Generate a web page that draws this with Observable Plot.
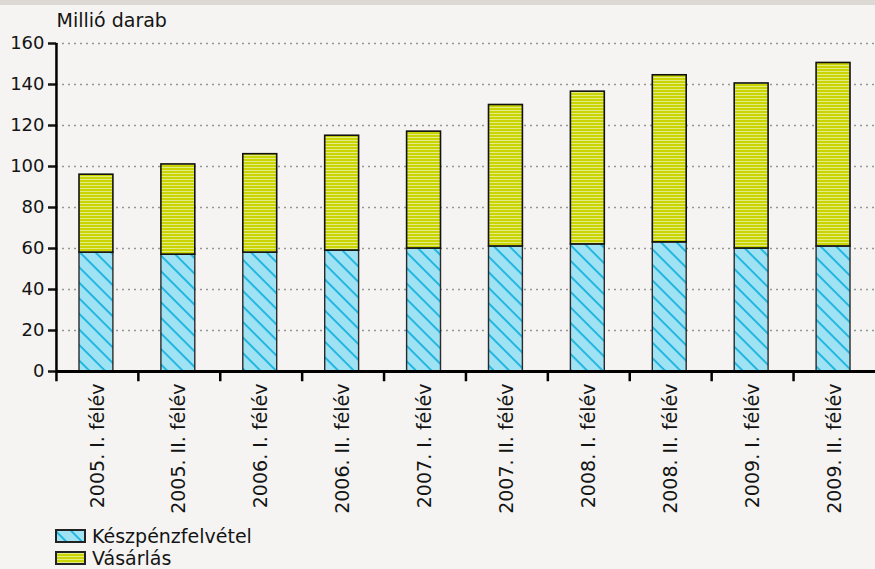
<!DOCTYPE html>
<html><head><meta charset="utf-8">
<script src="https://cdn.jsdelivr.net/npm/d3@7"></script>
<script src="https://cdn.jsdelivr.net/npm/@observablehq/plot@0.6"></script>
<style>
html,body{margin:0;padding:0;background:#f5f4f2;width:875px;height:569px;overflow:hidden;font-family:"DejaVu Sans",sans-serif;}
#topband{position:absolute;left:0;top:0;width:875px;height:5px;background:#dcd8d4;}
#chart{position:absolute;left:0;top:0;}
#legend{position:absolute;left:55px;top:525px;font-size:19px;color:#141414;}
.li{display:flex;align-items:center;height:22px;line-height:22px;}
.li svg{margin-right:6px;}
</style>
</head><body>
<div id="chart"></div>
<div id="topband"></div>
<div id="legend"></div>
<script>
const categories = ["2005. I. félév","2005. II. félév","2006. I. félév","2006. II. félév","2007. I. félév","2007. II. félév","2008. I. félév","2008. II. félév","2009. I. félév","2009. II. félév"];
const cashWithdrawal = [58, 57, 58, 59, 60, 61, 62, 63, 60, 61];
const purchases = [38, 44, 48, 56, 57, 69, 74.5, 81.5, 80.5, 89.5];
const seriesNames = ["Készpénzfelvétel", "Vásárlás"];
const yTicks = [0, 20, 40, 60, 80, 100, 120, 140, 160];
const yLabel = "Millió darab";

const rows = categories.map((c, i) => ({cat: c, cash: cashWithdrawal[i], buy: purchases[i], total: cashWithdrawal[i] + purchases[i]}));

const defs = `
<pattern id="hatchBlue" patternUnits="userSpaceOnUse" width="11" height="11" patternTransform="rotate(45)">
  <rect width="11" height="11" fill="#9ee2f4"/>
  <rect x="0" y="0" width="11" height="1.8" fill="#16b2de"/>
</pattern>
<pattern id="stripeYellow" patternUnits="userSpaceOnUse" width="3" height="3">
  <rect width="3" height="3" fill="#e3eb86"/>
  <rect x="0" y="0" width="3" height="2" fill="#c9d400"/>
</pattern>`;

const plot = Plot.plot({
  width: 875,
  height: 525,
  marginTop: 43,
  marginBottom: 154,
  marginLeft: 56,
  marginRight: 0,
  style: {background: "transparent", fontFamily: "'DejaVu Sans', sans-serif", fontSize: "19px", color: "#141414"},
  x: {domain: categories, padding: 0, round: false},
  y: {domain: [0, 160]},
  marks: [
    Plot.ruleY(yTicks.slice(1), {stroke: "#969696", strokeWidth: 1.3, strokeDasharray: "2,4"}),
    Plot.barY(rows, {x: "cat", y1: 0, y2: "cash", fill: "url(#hatchBlue)", stroke: "#2a2a2a", strokeWidth: 1.4, insetLeft: 23, insetRight: 25}),
    Plot.barY(rows, {x: "cat", y1: "cash", y2: "total", fill: "url(#stripeYellow)", stroke: "#111", strokeWidth: 1.6, insetLeft: 23, insetRight: 25}),
    Plot.axisY({ticks: yTicks, tickSize: 8, tickPadding: 4, label: null, strokeWidth: 2.5, fontSize: 18}),
    Plot.ruleX([0], {x: () => categories[0], y1: 0, y2: 160, stroke: "#000", strokeWidth: 2.5, dx: -41}),
    Plot.ruleX(categories, {y1: 0, y2: -5, stroke: "#000", strokeWidth: 2.5, dx: -41}),
    Plot.ruleY([0], {stroke: "#000", strokeWidth: 3}),
    Plot.axisX({tickSize: 0, tickRotate: -90, tickPadding: 12, label: null, fontSize: 19}),
    Plot.text([yLabel], {frameAnchor: "top-left", text: d => d, dy: -30, dx: 0, fontSize: 19, textAnchor: "start", fill: "#141414"})
  ]
});
const svg = d3.select(plot);
svg.insert("defs", ":first-child").html(defs);
document.getElementById("chart").appendChild(plot);

const legend = document.getElementById("legend");
const fills = ["url(#hatchBlue)", "url(#stripeYellow)"];
seriesNames.forEach((name, i) => {
  const div = document.createElement("div");
  div.className = "li";
  div.innerHTML = `<svg width="31" height="14"><rect x="1" y="1" width="29" height="12" fill="${fills[i]}" stroke="#222" stroke-width="2"/></svg><span>${name}</span>`;
  legend.appendChild(div);
});
</script>
</body></html>
